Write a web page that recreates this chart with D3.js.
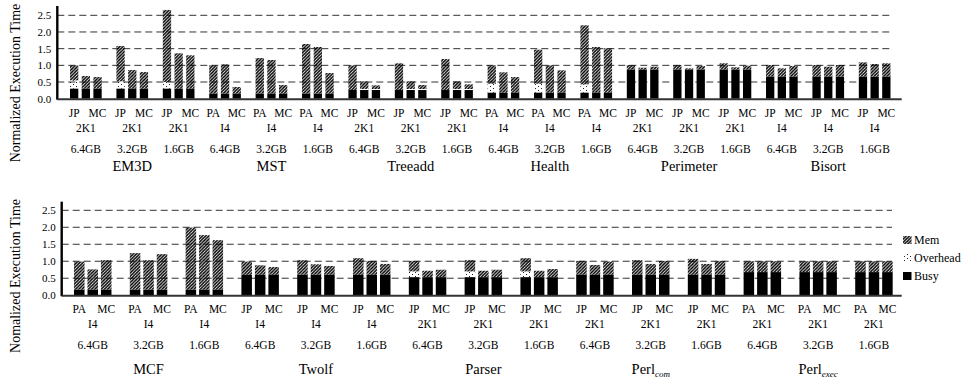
<!DOCTYPE html>
<html>
<head>
<meta charset="utf-8">
<script src="https://cdn.jsdelivr.net/npm/d3@7"></script>
<style>
body { margin: 0; background: #fff; }
svg text { font-family: "Liberation Serif", "Times New Roman", serif; fill: #000; }
</style>
</head>
<body>
<div id="chart"></div>
<script>
// memory sizes, same for every benchmark
const sizes = ["6.4GB", "3.2GB", "1.6GB"];
const yTicks = [0, 0.5, 1.0, 1.5, 2.0, 2.5];
const layers = ["busy", "over", "mem"];
const legendNames = ["Mem", "Overhead", "Busy"];

// top panel
const topBench = ["EM3D", "MST", "Treeadd", "Health", "Perimeter", "Bisort"];
const topSchemes = [["JP", "2K1", "MC"], ["PA", "I4", "MC"], ["JP", "2K1", "MC"],
                    ["PA", "I4", "MC"], ["JP", "2K1", "MC"], ["JP", "I4", "MC"]];
// per benchmark: 6.4GB x3, 3.2GB x3, 1.6GB x3
const topBusy = [
  [0.30, 0.30, 0.30, 0.30, 0.30, 0.30, 0.30, 0.30, 0.30],
  [0.15, 0.15, 0.15, 0.15, 0.15, 0.15, 0.15, 0.15, 0.15],
  [0.26, 0.26, 0.26, 0.26, 0.26, 0.26, 0.26, 0.26, 0.26],
  [0.18, 0.18, 0.18, 0.18, 0.18, 0.18, 0.18, 0.18, 0.18],
  [0.87, 0.87, 0.87, 0.87, 0.87, 0.87, 0.87, 0.87, 0.87],
  [0.66, 0.66, 0.66, 0.66, 0.66, 0.66, 0.66, 0.66, 0.66]
];
const topOver = [
  [0.25, 0, 0, 0.22, 0, 0, 0.20, 0, 0],
  [0, 0, 0, 0, 0, 0, 0, 0, 0],
  [0, 0.03, 0.03, 0, 0.03, 0.03, 0, 0.03, 0.03],
  [0.27, 0, 0, 0.27, 0, 0, 0.25, 0, 0],
  [0, 0, 0, 0, 0, 0, 0, 0, 0],
  [0, 0, 0, 0, 0, 0, 0, 0, 0]
];
const topMem = [
  [0.45, 0.38, 0.35, 1.06, 0.56, 0.50, 2.16, 1.06, 1.00],
  [0.85, 0.88, 0.20, 1.07, 1.01, 0.26, 1.49, 1.40, 0.62],
  [0.74, 0.23, 0.11, 0.80, 0.23, 0.12, 0.93, 0.23, 0.14],
  [0.55, 0.61, 0.47, 1.02, 0.82, 0.67, 1.77, 1.37, 1.33],
  [0.14, 0.06, 0.09, 0.14, 0.04, 0.11, 0.19, 0.07, 0.12],
  [0.35, 0.25, 0.32, 0.35, 0.30, 0.35, 0.43, 0.38, 0.40]
];

// bottom panel
const botBench = ["MCF", "Twolf", "Parser", "Perl_com", "Perl_exec"];
const botSchemes = [["PA", "I4", "MC"], ["JP", "I4", "MC"], ["JP", "2K1", "MC"],
                    ["JP", "2K1", "MC"], ["PA", "2K1", "MC"]];
const botBusy = [
  [0.16, 0.16, 0.16, 0.16, 0.16, 0.16, 0.16, 0.16, 0.16],
  [0.60, 0.60, 0.60, 0.60, 0.60, 0.60, 0.60, 0.60, 0.60],
  [0.53, 0.53, 0.53, 0.53, 0.53, 0.53, 0.53, 0.53, 0.53],
  [0.60, 0.60, 0.60, 0.60, 0.60, 0.60, 0.60, 0.60, 0.60],
  [0.68, 0.68, 0.68, 0.68, 0.68, 0.68, 0.68, 0.68, 0.68]
];
const botOver = [
  [0, 0, 0, 0, 0, 0, 0, 0, 0],
  [0, 0, 0, 0, 0, 0, 0, 0, 0],
  [0.17, 0, 0, 0.17, 0, 0, 0.17, 0, 0],
  [0, 0, 0, 0, 0, 0, 0, 0, 0],
  [0, 0, 0, 0, 0, 0, 0, 0, 0]
];
const botMem = [
  [0.83, 0.60, 0.87, 1.08, 0.87, 1.05, 1.83, 1.61, 1.46],
  [0.39, 0.28, 0.23, 0.43, 0.31, 0.26, 0.49, 0.41, 0.32],
  [0.31, 0.19, 0.22, 0.33, 0.19, 0.22, 0.39, 0.19, 0.24],
  [0.41, 0.29, 0.39, 0.43, 0.32, 0.41, 0.47, 0.32, 0.41],
  [0.32, 0.32, 0.32, 0.32, 0.32, 0.32, 0.32, 0.32, 0.32]
];

const W = 964, H = 379;
const svg = d3.select("#chart").append("svg")
  .attr("width", W).attr("height", H)
  .style("background", "#fff");

// fill patterns
const defs = svg.append("defs");
const hatch = defs.append("pattern").attr("id", "hatch")
  .attr("patternUnits", "userSpaceOnUse").attr("width", 3.2).attr("height", 3.2);
hatch.append("path")
  .attr("d", "M-1,1 L1,-1 M0,3.2 L3.2,0 M2.2,4.2 L4.2,2.2")
  .attr("stroke", "#000").attr("stroke-width", 1.5);
const dots = defs.append("pattern").attr("id", "dots")
  .attr("patternUnits", "userSpaceOnUse").attr("width", 6).attr("height", 4);
dots.append("rect").attr("x", 1).attr("y", 0).attr("width", 1).attr("height", 1).attr("fill", "#222");
dots.append("rect").attr("x", 4).attr("y", 2).attr("width", 1).attr("height", 1).attr("fill", "#222");

const fills = { busy: "#000", over: "url(#dots)", mem: "url(#hatch)" };

function drawPanel(p) {
  const g = svg.append("g");
  const y = d3.scaleLinear().domain([0, 2.5]).range([p.y0, p.y25]);
  const nGroups = p.bench.length * sizes.length;
  const xg = d3.scaleBand().domain(d3.range(nGroups)).range(p.xRange);
  const xb = d3.scaleBand().domain([0, 1, 2]).range([0, xg.bandwidth()])
    .paddingInner(p.padIn).paddingOuter(p.padOut);

  // rows for the stack
  let rows = [];
  p.bench.forEach((b, bi) => {
    for (let i = 0; i < 9; i++) {
      rows.push({
        group: bi * 3 + Math.floor(i / 3), bar: i % 3,
        busy: p.busy[bi][i], over: p.over[bi][i], mem: p.mem[bi][i]
      });
    }
  });

  // dashed grid
  g.selectAll(".grid").data(yTicks.slice(1)).join("line")
    .attr("x1", p.axisX).attr("x2", p.gridEnd)
    .attr("y1", d => y(d)).attr("y2", d => y(d))
    .attr("stroke", "#333").attr("stroke-width", 1)
    .attr("stroke-dasharray", "7,4");

  const stack = d3.stack().keys(layers)(rows);
  g.selectAll(".layer").data(stack).join("g")
    .attr("fill", d => fills[d.key])
    .selectAll("rect").data(d => d).join("rect")
    .attr("x", d => xg(d.data.group) + xb(d.data.bar))
    .attr("width", xb.bandwidth())
    .attr("y", d => y(d[1]))
    .attr("height", d => Math.max(0, y(d[0]) - y(d[1])));

  // axis
  const ax = g.append("g").attr("transform", `translate(${p.axisX},0)`)
    .call(d3.axisLeft(y).tickValues(yTicks).tickFormat(d3.format(".1f")).tickSize(0).tickPadding(6));
  ax.select(".domain").remove();
  ax.selectAll("text").style("font-family", '"Liberation Serif", serif').style("font-size", "11px");
  g.append("line").attr("x1", p.axisX).attr("x2", p.axisX)
    .attr("y1", p.y0 + 1).attr("y2", p.axisTop)
    .attr("stroke", "#000").attr("stroke-width", 2.4);
  g.append("line").attr("x1", p.axisX).attr("x2", p.baseEnd)
    .attr("y1", p.y0 + 0.5).attr("y2", p.y0 + 0.5)
    .attr("stroke", "#333").attr("stroke-width", 2);

  // y label
  g.append("text")
    .attr("transform", `translate(20,${p.labelY}) rotate(-90)`)
    .attr("text-anchor", "middle").style("font-size", "14px")
    .text(p.yLabel);

  // scheme labels
  const groups = d3.range(nGroups);
  const lab = g.append("g").style("font-size", "11.5px").attr("text-anchor", "middle");
  groups.forEach(i => {
    const sc = p.schemes[Math.floor(i / 3)];
    const bx = k => xg(i) + xb(k) + xb.bandwidth() / 2;
    lab.append("text").attr("x", bx(0)).attr("y", p.row1).text(sc[0]);
    lab.append("text").attr("x", bx(2)).attr("y", p.row1).text(sc[2]);
    lab.append("text").attr("x", bx(1)).attr("y", p.row2).text(sc[1]);
    lab.append("text").attr("x", xg(i) + xg.bandwidth() / 2).attr("y", p.row3).text(sizes[i % 3]);
  });

  // benchmark names
  p.bench.forEach((b, bi) => {
    const parts = b.split("_");
    const t = g.append("text")
      .attr("x", xg(bi * 3) + xg.bandwidth() * 1.5).attr("y", p.row4)
      .attr("text-anchor", "middle").style("font-size", "14.5px");
    t.append("tspan").text(parts[0]);
    if (parts[1]) {
      t.append("tspan").attr("dy", 3).style("font-size", "9px")
        .style("font-style", "italic").text(parts[1]);
    }
  });
}

drawPanel({
  bench: topBench, schemes: topSchemes, busy: topBusy, over: topOver, mem: topMem,
  y0: 98.7, y25: 15.3, axisTop: 6, axisX: 57.3, gridEnd: 893, baseEnd: 901.7,
  xRange: [62.65, 897.85], padIn: 0.29, padOut: 0.63,
  row1: 117.3, row2: 132.3, row3: 153, row4: 170.5,
  labelY: 83, yLabel: "Normalized Execution Time"
});

drawPanel({
  bench: botBench, schemes: botSchemes, busy: botBusy, over: botOver, mem: botMem,
  y0: 295.2, y25: 210.3, axisTop: 201.7, axisX: 61.7, gridEnd: 892, baseEnd: 901.7,
  xRange: [64.85, 901.85], padIn: 0.22, padOut: 0.68,
  row1: 312.6, row2: 327.8, row3: 348.6, row4: 373.5,
  labelY: 276, yLabel: "Nomalized Execution Time"
});

// legend
const leg = svg.append("g").attr("transform", "translate(903,236)");
const legFill = ["url(#hatch)", "url(#dots)", "#000"];
legendNames.forEach((n, i) => {
  leg.append("rect").attr("x", 0).attr("y", i * 18).attr("width", 8.5).attr("height", 8)
    .attr("fill", legFill[i]);
  leg.append("text").attr("x", 11).attr("y", i * 18 + 7.5)
    .style("font-size", "12px").text(n);
});
</script>
</body>
</html>
